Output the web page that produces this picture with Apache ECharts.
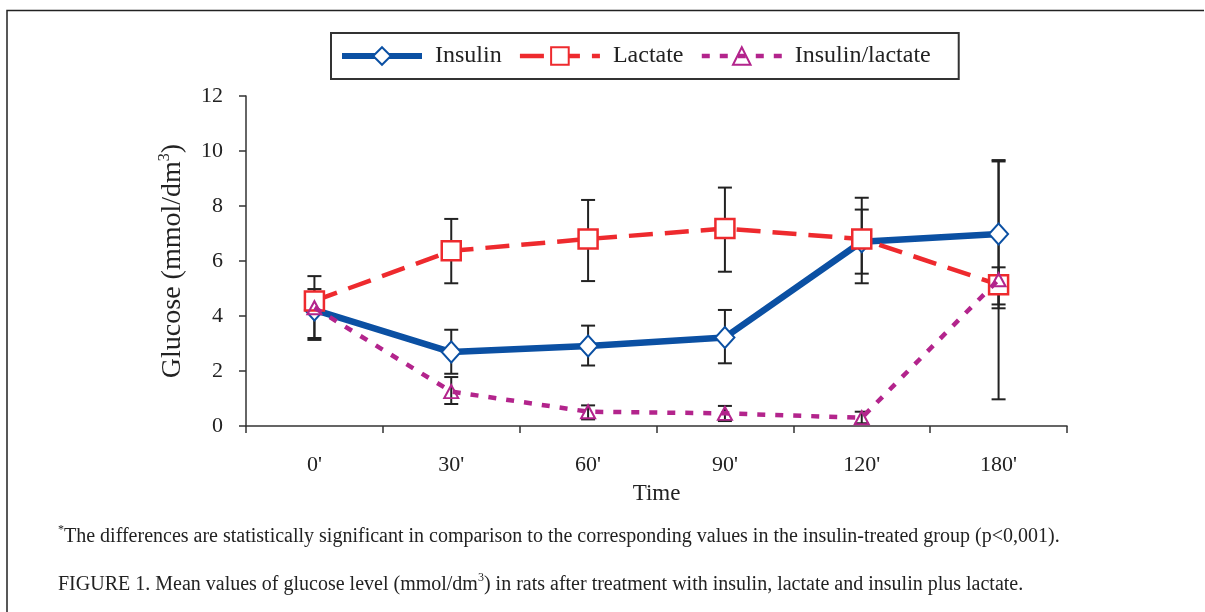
<!DOCTYPE html>
<html>
<head>
<meta charset="utf-8">
<script src="https://cdn.jsdelivr.net/npm/echarts@6/dist/echarts.min.js"></script>
<style>
html,body{margin:0;padding:0;background:#fff;}
#c{width:1205px;height:612px;}
</style>
</head>
<body>
<div id="c"></div>
<script>
var categories = ["0'", "30'", "60'", "90'", "120'", "180'"];
var yTicks = [0, 2, 4, 6, 8, 10, 12];

var insulinMean = [4.22, 2.69, 2.91, 3.22, 6.70, 6.98];
var insulinLow  = [3.20, 1.90, 2.20, 2.28, 5.54, 4.28];
var insulinHigh = [4.98, 3.50, 3.65, 4.22, 7.87, 9.62];

var lactateMean = [4.55, 6.37, 6.80, 7.18, 6.80, 5.14];
var lactateLow  = [4.30, 5.19, 5.27, 5.61, 5.19, 4.42];
var lactateHigh = [4.80, 7.53, 8.22, 8.67, 8.30, 5.77];

var ilMean = [4.30, 1.25, 0.52, 0.46, 0.30, 5.32];
var ilLow  = [3.13, 0.80, 0.24, 0.18, 0.10, 0.97];
var ilHigh = [5.45, 1.78, 0.75, 0.73, 0.52, 9.67];

var FONT = '"Liberation Serif", "DejaVu Serif", serif';
var BLUE = '#0b50a3', RED = '#ee2a2e', MAG = '#b3248c', INK = '#222222';

function errData(low, high) {
  return categories.map(function (c, i) { return [i, low[i], high[i]]; });
}
function errSeries(low, high) {
  return {
    type: 'custom',
    silent: true,
    z: 1,
    data: errData(low, high),
    renderItem: function (params, api) {
      var x = api.value(0);
      var pLow = api.coord([x, api.value(1)]);
      var pHigh = api.coord([x, api.value(2)]);
      var hw = 7;
      var st = { stroke: INK, lineWidth: 2 };
      return {
        type: 'group',
        children: [
          { type: 'line', shape: { x1: pLow[0], y1: pLow[1], x2: pHigh[0], y2: pHigh[1] }, style: st },
          { type: 'line', shape: { x1: pLow[0] - hw, y1: pLow[1], x2: pLow[0] + hw, y2: pLow[1] }, style: st },
          { type: 'line', shape: { x1: pHigh[0] - hw, y1: pHigh[1], x2: pHigh[0] + hw, y2: pHigh[1] }, style: st }
        ]
      };
    }
  };
}

var chart = echarts.init(document.getElementById('c'), null, { renderer: 'canvas' });
chart.setOption({
  animation: false,
  backgroundColor: '#fff',
  textStyle: { fontFamily: FONT },
  grid: { left: 246, right: 138, top: 96, bottom: 186 },
  legend: {
    left: 331, top: 33,
    padding: [11, 28, 11, 8],
    borderColor: '#333', borderWidth: 2,
    itemWidth: 80, itemHeight: 22, itemGap: 16,
    textStyle: { fontFamily: FONT, fontSize: 24, color: INK, padding: [2, 0, 0, 8] },
    data: [
      { name: 'Insulin', lineStyle: { width: 6 } },
      { name: 'Lactate', lineStyle: { width: 4.5 } },
      { name: 'Insulin/lactate', lineStyle: { width: 4.5 } }
    ]
  },
  xAxis: {
    type: 'category',
    data: categories,
    boundaryGap: true,
    name: 'Time',
    nameLocation: 'middle',
    nameGap: 56,
    nameTextStyle: { fontFamily: FONT, fontSize: 23, color: INK },
    axisLine: { lineStyle: { color: '#333', width: 1.5 } },
    axisTick: { show: true, length: 7, alignWithLabel: false, lineStyle: { color: '#333', width: 1.5 } },
    axisLabel: { margin: 28, fontFamily: FONT, fontSize: 22, color: INK },
    splitLine: { show: false }
  },
  yAxis: {
    type: 'value',
    min: yTicks[0], max: yTicks[yTicks.length - 1], interval: 2,
    name: '{a|Glucose (mmol/dm}{s|3}{a|)}',
    nameLocation: 'middle',
    nameRotate: 90,
    nameGap: 57,
    nameTextStyle: {
      rich: {
        a: { fontFamily: FONT, fontSize: 28, color: INK, lineHeight: 32 },
        s: { fontFamily: FONT, fontSize: 16, color: INK, verticalAlign: 'top', lineHeight: 32, padding: [0, 0, 12, 0] }
      }
    },
    axisLine: { show: true, lineStyle: { color: '#333', width: 1.5 } },
    axisTick: { show: true, length: 7, lineStyle: { color: '#333', width: 1.5 } },
    axisLabel: { margin: 23, fontFamily: FONT, fontSize: 22, color: INK },
    splitLine: { show: false }
  },
  series: [
    errSeries(insulinLow, insulinHigh),
    errSeries(lactateLow, lactateHigh),
    errSeries(ilLow, ilHigh),
    {
      name: 'Insulin', type: 'line', data: insulinMean, z: 3,
      symbol: 'diamond', symbolSize: [19, 21],
      lineStyle: { color: BLUE, width: 6.5 },
      itemStyle: { color: '#fff', borderColor: BLUE, borderWidth: 2 }
    },
    {
      name: 'Lactate', type: 'line', data: lactateMean, z: 4,
      symbol: 'rect', symbolSize: 19,
      lineStyle: { color: RED, width: 4.5, type: [24, 12] },
      itemStyle: { color: '#fff', borderColor: RED, borderWidth: 2.5 }
    },
    {
      name: 'Insulin/lactate', type: 'line', data: ilMean, z: 5,
      symbol: 'triangle', symbolSize: [14, 13],
      lineStyle: { color: MAG, width: 4.5, type: [8, 10] },
      itemStyle: { color: 'rgba(255,255,255,0)', borderColor: MAG, borderWidth: 2 }
    }
  ],
  graphic: [
    { type: 'polyline', silent: true, shape: { points: [[7, 612], [7, 10.5], [1204, 10.5]] }, style: { stroke: '#222', lineWidth: 1.5, fill: null } },
    {
      type: 'text', left: 58, top: 524, silent: true,
      style: {
        text: '{s|*}{t|The differences are statistically significant in comparison to the corresponding values in the insulin-treated group (p<0,001).}',
        rich: {
          t: { fontFamily: FONT, fontSize: 20, fill: INK, lineHeight: 26 },
          s: { fontFamily: FONT, fontSize: 12, fill: INK, lineHeight: 26, verticalAlign: 'top' }
        }
      }
    },
    {
      type: 'text', left: 58, top: 572, silent: true,
      style: {
        text: '{t|FIGURE 1. Mean values of glucose level (mmol/dm}{s|3}{t|) in rats after treatment with insulin, lactate and insulin plus lactate.}',
        rich: {
          t: { fontFamily: FONT, fontSize: 20, fill: INK, lineHeight: 26 },
          s: { fontFamily: FONT, fontSize: 12, fill: INK, lineHeight: 26, verticalAlign: 'top' }
        }
      }
    }
  ]
});
</script>
</body>
</html>
